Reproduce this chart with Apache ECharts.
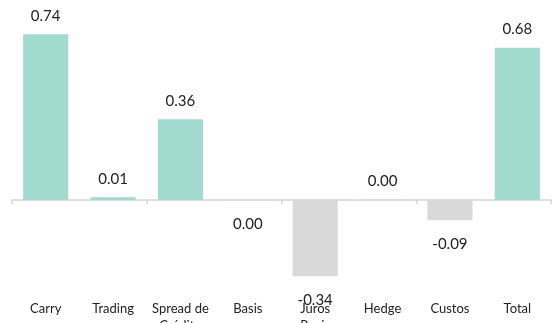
<!DOCTYPE html>
<html><head><meta charset="utf-8">
<script src="https://cdn.jsdelivr.net/npm/echarts@6/dist/echarts.min.js"></script>
<style>html,body{margin:0;padding:0;background:#fff}#c{width:552px;height:323px}</style>
</head><body><div id="c"></div>
<script>
const categories = ['Carry', 'Trading', 'Spread de\nCrédito', 'Basis', 'Juros\nReais', 'Hedge', 'Custos', 'Total'];
const values = [0.74, 0.012, 0.36, -0.001, -0.34, 0.001, -0.09, 0.68];
const posColor = '#a2dacf';
const negColor = '#d9d9d9';

const chart = echarts.init(document.getElementById('c'), null, {renderer: 'canvas'});
const fmt = v => (Math.abs(v) < 0.005 ? 0 : v).toFixed(2);
const font = 'Lato, "Noto Sans", sans-serif';
chart.setOption({
  animation: false,
  textStyle: {fontFamily: font},
  grid: {left: 12, right: 1, top: 20.8, bottom: 33.4, containLabel: false, outerBoundsMode: 'none'},
  xAxis: [{
    type: 'category', data: categories,
    axisLine: {onZero: true, lineStyle: {color: '#d6d6d6', width: 1.6}},
    axisTick: {show: true, length: 4, lineStyle: {color: '#d6d6d6', width: 1.6}},
    axisLabel: {show: false}
  }, {
    type: 'category', data: categories, position: 'bottom',
    axisLine: {show: false, onZero: false}, axisTick: {show: false},
    axisLabel: {show: true, interval: 0, color: '#222', fontSize: 13, margin: 11, lineHeight: 17,
      fontFamily: font}
  }],
  yAxis: {type: 'value', min: -0.4, max: 0.8, show: false, splitLine: {show: false}},
  series: [{
    type: 'bar', xAxisIndex: 0,
    barCategoryGap: '33%',
    data: values.map(v => ({
      value: v,
      itemStyle: {color: v >= 0 ? posColor : negColor},
      label: {show: true, position: v >= 0 ? 'top' : 'bottom', distance: v >= 0 ? 11 : 16,
        formatter: p => fmt(p.value), color: '#222', fontSize: 15, fontFamily: font}
    }))
  }]
});
</script></body></html>
